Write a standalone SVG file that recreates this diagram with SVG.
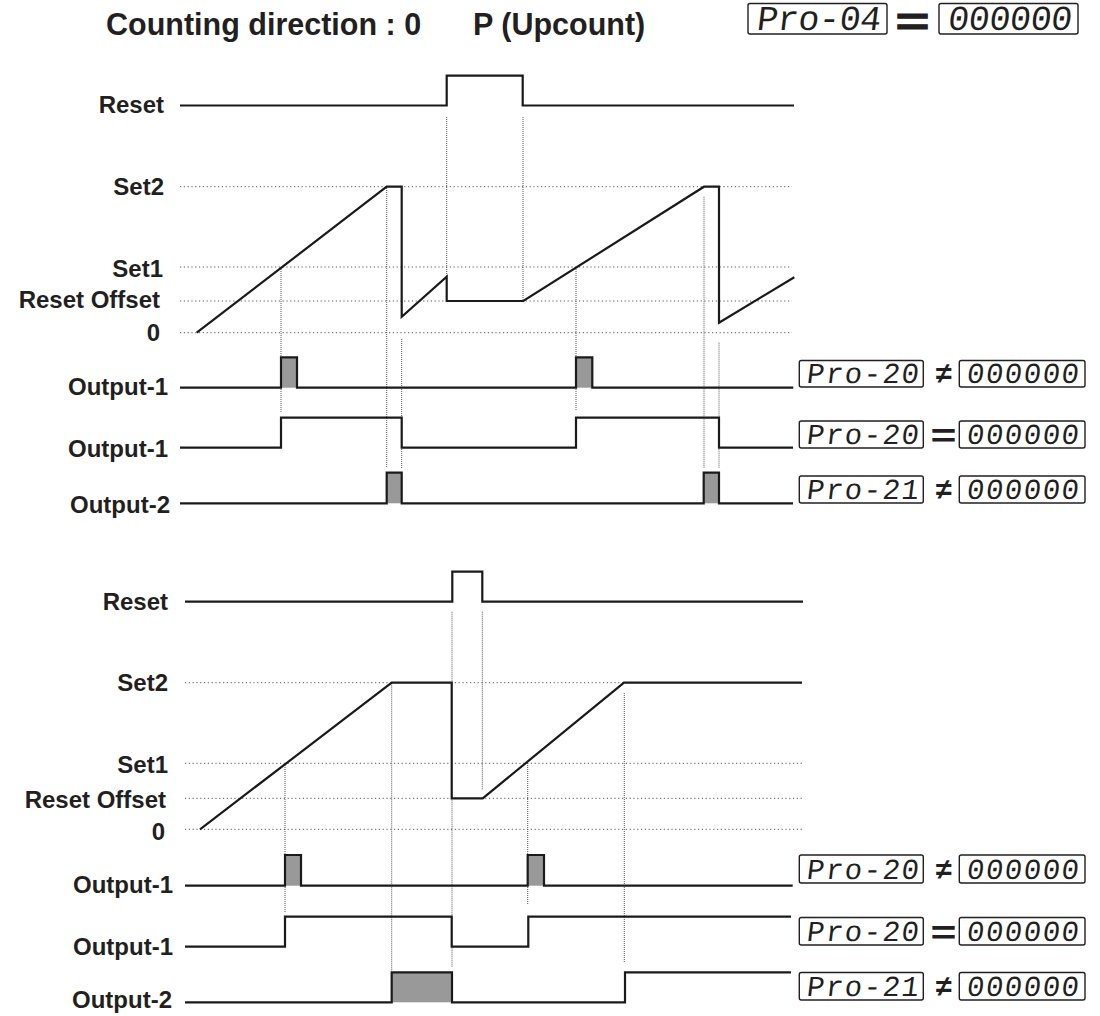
<svg xmlns="http://www.w3.org/2000/svg" width="1100" height="1016" viewBox="0 0 1100 1016">
<style>
.lbl{font-family:"Liberation Sans",Arial,sans-serif;font-weight:bold;font-size:24px;fill:#231f20;text-anchor:end}
.title{font-family:"Liberation Sans",Arial,sans-serif;font-weight:bold;font-size:30.5px;fill:#231f20}
.hd{fill:none;stroke:#555;stroke-width:1;stroke-dasharray:1.2 2.6}
.vd{fill:none;stroke:#555;stroke-width:1;stroke-dasharray:1 1}
.sig{fill:none;stroke:#1a1a1a;stroke-width:2.2;stroke-linejoin:miter}
.fill{fill:#999;stroke:none}
.box{fill:#fff;stroke:#231f20;stroke-width:1.4}
.seg{font-family:"Liberation Mono","DejaVu Sans Mono",monospace;fill:#231f20}
.sm{font-size:29px}
.sym{font-family:"Liberation Sans",Arial,sans-serif;font-weight:bold;fill:#231f20;text-anchor:middle}
</style>

<text class="title" x="106" y="35">Counting direction : 0</text>
<text class="title" x="473" y="35">P (Upcount)</text>

<g id="header-display">
  <rect class="box" x="748" y="3.5" width="139" height="30.5" rx="2"/>
  <text class="seg" transform="translate(756,30) skewX(-7)" x="0" y="0" font-size="35" textLength="124" lengthAdjust="spacing">Pro-04</text>
  <text class="sym" x="912.5" y="34.5" font-size="38" stroke="#231f20" stroke-width="0.9" textLength="34" lengthAdjust="spacingAndGlyphs">=</text>
  <rect class="box" x="939" y="3.5" width="139" height="30.5" rx="2"/>
  <text class="seg" transform="translate(947,30) skewX(-7)" x="0" y="0" font-size="35" textLength="124" lengthAdjust="spacing">000000</text>
</g>

<!-- ===== Upper panel ===== -->
<g id="upper-grid">
  <line class="hd" x1="180" y1="186.7" x2="792" y2="186.7"/>
  <line class="hd" x1="180" y1="267" x2="792" y2="267"/>
  <line class="hd" x1="180" y1="301" x2="792" y2="301"/>
  <line class="hd" x1="180" y1="332.7" x2="792" y2="332.7"/>
  <line class="vd" x1="281" y1="267" x2="281" y2="413"/>
  <line class="vd" x1="386.7" y1="188" x2="386.7" y2="468"/>
  <line class="vd" x1="401.7" y1="339" x2="401.7" y2="468"/>
  <line class="vd" x1="446.7" y1="117" x2="446.7" y2="277"/>
  <line class="vd" x1="523" y1="117" x2="523" y2="300"/>
  <line class="vd" x1="576" y1="267" x2="576" y2="411"/>
  <line class="vd" x1="704" y1="196.7" x2="704" y2="468"/>
  <line class="vd" x1="719" y1="342.7" x2="719" y2="468"/>
</g>

<g id="upper-labels">
  <text class="lbl" x="164" y="113">Reset</text>
  <text class="lbl" x="164" y="195">Set2</text>
  <text class="lbl" x="163" y="277">Set1</text>
  <text class="lbl" x="160" y="308">Reset Offset</text>
  <text class="lbl" x="160" y="341">0</text>
  <text class="lbl" x="168" y="395">Output-1</text>
  <text class="lbl" x="168" y="456.7">Output-1</text>
  <text class="lbl" x="170" y="513">Output-2</text>
</g>

<g id="upper-signals">
  <path class="sig" d="M180,105.5 H446.7 V75.7 H522.7 V105.5 H794"/>
  <path class="sig" d="M196.7,332.7 L386.7,186.7 H401.7 V316.7 L446.7,276.7 V301 H523.3 L704,186.7 H719 V322.7 L794.3,277.3"/>
  <rect class="fill" x="281" y="357.3" width="16" height="30.4"/>
  <rect class="fill" x="576" y="357.3" width="16.3" height="30.4"/>
  <path class="sig" d="M180,387.7 H281 V357.3 H297 V387.7 H576 V357.3 H592.3 V387.7 H793.3"/>
  <path class="sig" d="M180,447.7 H281 V417.7 H401.7 V447.7 H576 V417.7 H719 V447.7 H793"/>
  <rect class="fill" x="386.7" y="472.7" width="15" height="30.6"/>
  <rect class="fill" x="703.7" y="472.7" width="15.3" height="30.6"/>
  <path class="sig" d="M180,503.3 H386.7 V472.7 H401.7 V503.3 H703.7 V472.7 H719 V503.3 H793"/>
</g>

<g id="upper-displays">
  <rect class="box" x="799.3" y="360.5" width="124" height="26.5" rx="2"/>
  <text class="seg sm" transform="translate(806,383) skewX(-7)" x="0" y="0" textLength="112" lengthAdjust="spacing">Pro-20</text>
  <text class="sym" x="944" y="383" font-size="29">≠</text>
  <rect class="box" x="959.3" y="360.5" width="125.7" height="26.5" rx="2"/>
  <text class="seg sm" transform="translate(966,383) skewX(-7)" x="0" y="0" textLength="112" lengthAdjust="spacing">000000</text>

  <rect class="box" x="799.3" y="421" width="124" height="27" rx="2"/>
  <text class="seg sm" transform="translate(806,444) skewX(-7)" x="0" y="0" textLength="112" lengthAdjust="spacing">Pro-20</text>
  <text class="sym" x="943.5" y="447" font-size="34" textLength="26" lengthAdjust="spacingAndGlyphs">=</text>
  <rect class="box" x="959.3" y="421" width="125.7" height="27" rx="2"/>
  <text class="seg sm" transform="translate(966,444) skewX(-7)" x="0" y="0" textLength="112" lengthAdjust="spacing">000000</text>

  <rect class="box" x="799.3" y="476" width="124" height="27" rx="2"/>
  <text class="seg sm" transform="translate(806,499) skewX(-7)" x="0" y="0" textLength="112" lengthAdjust="spacing">Pro-21</text>
  <text class="sym" x="944" y="499" font-size="29">≠</text>
  <rect class="box" x="959.3" y="476" width="125.7" height="27" rx="2"/>
  <text class="seg sm" transform="translate(966,499) skewX(-7)" x="0" y="0" textLength="112" lengthAdjust="spacing">000000</text>
</g>

<!-- ===== Lower panel ===== -->
<g id="lower-grid">
  <line class="hd" x1="185" y1="682.7" x2="803" y2="682.7"/>
  <line class="hd" x1="185" y1="763.3" x2="803" y2="763.3"/>
  <line class="hd" x1="185" y1="798.3" x2="803" y2="798.3"/>
  <line class="hd" x1="185" y1="829.3" x2="803" y2="829.3"/>
  <line class="vd" x1="285" y1="763" x2="285" y2="912"/>
  <line class="vd" x1="391.7" y1="682.7" x2="391.7" y2="971"/>
  <line class="vd" x1="452" y1="611.7" x2="452" y2="967"/>
  <line class="vd" x1="482.3" y1="611.7" x2="482.3" y2="790"/>
  <line class="vd" x1="527.7" y1="763" x2="527.7" y2="905"/>
  <line class="vd" x1="624.3" y1="693" x2="624.3" y2="962"/>
</g>

<g id="lower-labels">
  <text class="lbl" x="168" y="610">Reset</text>
  <text class="lbl" x="168" y="691">Set2</text>
  <text class="lbl" x="168" y="773">Set1</text>
  <text class="lbl" x="166" y="808">Reset Offset</text>
  <text class="lbl" x="165" y="840">0</text>
  <text class="lbl" x="173" y="893">Output-1</text>
  <text class="lbl" x="173" y="955">Output-1</text>
  <text class="lbl" x="172" y="1008">Output-2</text>
</g>

<g id="lower-signals">
  <path class="sig" d="M185,601.7 H452.3 V571.7 H482.3 V601.7 H803"/>
  <path class="sig" d="M200,829.3 L391.7,682.7 H451.7 V798.3 H482.7 L624,682.7 H802"/>
  <rect class="fill" x="285" y="855" width="16" height="30.7"/>
  <rect class="fill" x="527.7" y="855" width="16.3" height="30.7"/>
  <path class="sig" d="M185,885.7 H285 V855 H301 V885.7 H527.7 V855 H544 V885.7 H792.7"/>
  <path class="sig" d="M185,946.7 H285 V916.7 H451.7 V946.7 H528.3 V916.7 H791"/>
  <rect class="fill" x="391.7" y="972.3" width="60.3" height="30"/>
  <path class="sig" d="M185,1002.3 H391.7 V972.3 H452 V1002.3 H625 V972.3 H791"/>
</g>

<g id="lower-displays">
  <rect class="box" x="799.3" y="855" width="124" height="28" rx="2"/>
  <text class="seg sm" transform="translate(806,879) skewX(-7)" x="0" y="0" textLength="112" lengthAdjust="spacing">Pro-20</text>
  <text class="sym" x="944" y="879" font-size="29">≠</text>
  <rect class="box" x="959.3" y="855" width="125.7" height="28" rx="2"/>
  <text class="seg sm" transform="translate(966,879) skewX(-7)" x="0" y="0" textLength="112" lengthAdjust="spacing">000000</text>

  <rect class="box" x="799.3" y="917.5" width="124" height="27.5" rx="2"/>
  <text class="seg sm" transform="translate(806,941) skewX(-7)" x="0" y="0" textLength="112" lengthAdjust="spacing">Pro-20</text>
  <text class="sym" x="943.5" y="944" font-size="34" textLength="26" lengthAdjust="spacingAndGlyphs">=</text>
  <rect class="box" x="959.3" y="917.5" width="125.7" height="27.5" rx="2"/>
  <text class="seg sm" transform="translate(966,941) skewX(-7)" x="0" y="0" textLength="112" lengthAdjust="spacing">000000</text>

  <rect class="box" x="799.3" y="972.5" width="124" height="27.5" rx="2"/>
  <text class="seg sm" transform="translate(806,996) skewX(-7)" x="0" y="0" textLength="112" lengthAdjust="spacing">Pro-21</text>
  <text class="sym" x="944" y="996" font-size="29">≠</text>
  <rect class="box" x="959.3" y="972.5" width="125.7" height="27.5" rx="2"/>
  <text class="seg sm" transform="translate(966,996) skewX(-7)" x="0" y="0" textLength="112" lengthAdjust="spacing">000000</text>
</g>
</svg>
